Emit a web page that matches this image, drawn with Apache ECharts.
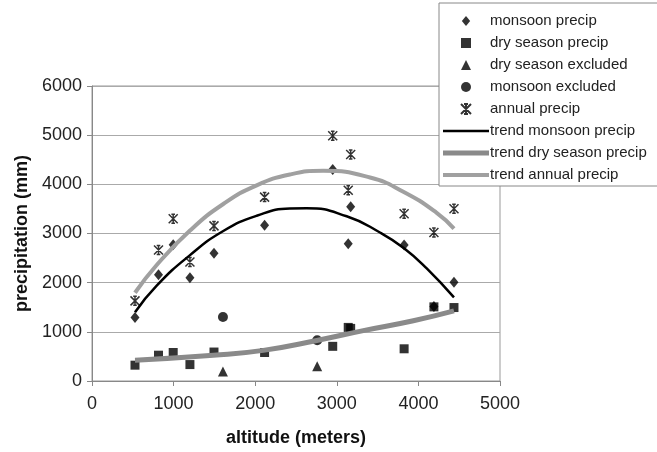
<!DOCTYPE html>
<html>
<head>
<meta charset="utf-8">
<script src="https://cdn.jsdelivr.net/npm/echarts@6/dist/echarts.min.js"></script>
<style>html,body{margin:0;padding:0;background:#fff;}#c{width:657px;height:452px;}</style>
</head>
<body>
<div id="c"></div>
<script>
// ---- data ----
var monsoonAlt    = [527, 815, 995, 1200, 1495, 2115, 2950, 3140, 3170, 3825, 4190, 4436];
var monsoonPrecip = [1290, 2160, 2770, 2100, 2600, 3170, 4300, 2790, 3545, 2765, 1515, 2010];

var dryAlt    = [527, 815, 995, 1200, 1495, 2115, 2950, 3140, 3170, 3825, 4190, 4436];
var dryPrecip = [322, 525, 580, 334, 589, 580, 705, 1090, 1070, 655, 1508, 1494];

var dryExclAlt    = [1605, 2760];
var dryExclPrecip = [195, 300];

var monsoonExclAlt    = [1605, 2760];
var monsoonExclPrecip = [1300, 830];

var annualAlt    = [527, 815, 995, 1200, 1495, 2115, 2950, 3140, 3170, 3825, 4190, 4436];
var annualPrecip = [1630, 2665, 3300, 2420, 3155, 3740, 4990, 3880, 4605, 3400, 3020, 3505];

// trend curves, points
var trendMonsoonAlt = [527, 793, 1201, 1609, 2018, 2426, 2631, 3121, 3529, 3824, 4102, 4436];
var trendMonsoonVal = [1400, 1940, 2560, 3050, 3360, 3510, 3515, 3350, 3020, 2700, 2290, 1700];

var trendDryAlt = [527, 1487, 2099, 2754, 3325, 3938, 4436];
var trendDryVal = [422, 523, 623, 824, 1025, 1226, 1427];

var trendAnnualAlt = [527, 793, 1201, 1609, 2018, 2426, 2835, 3407, 3815, 4224, 4436];
var trendAnnualVal = [1795, 2360, 3060, 3600, 3980, 4200, 4275, 4140, 3850, 3420, 3100];

var xTicks = [0, 1000, 2000, 3000, 4000, 5000];
var yTicks = [0, 1000, 2000, 3000, 4000, 5000, 6000];

function pairs(xs, ys) { return xs.map(function (x, i) { return [x, ys[i]]; }); }

var FONT = '"Liberation Sans", Arial, sans-serif';
var P_DIAMOND = 'path://M5,0L10,6L5,12L0,6Z';
var P_RECT = 'path://M0,0H10V10H0Z';
var P_TRI = 'path://M5,0L10,10L0,10Z';
var P_CIRCLE = 'path://M0,5A5,5 0 1 1 10,5A5,5 0 1 1 0,5Z';
var P_STAR = 'path://M0,0L10,10M10,0L0,10M5,0L5,10M3,0L7,0M3,10L7,10';

var chart = echarts.init(document.getElementById('c'), null, {renderer: 'canvas'});
chart.setOption({
  animation: false,
  backgroundColor: '#fff',
  textStyle: {fontFamily: FONT},
  grid: {left: 92, right: 157, top: 86, bottom: 68, show: true, borderColor: '#999', borderWidth: 1, backgroundColor: 'transparent'},
  legend: {
    left: 439, top: 3, orient: 'vertical',
    itemWidth: 46, itemHeight: 10, itemGap: 6,
    symbolKeepAspect: true,
    padding: [10, 30, 3, 4],
    backgroundColor: '#fff', borderColor: '#888', borderWidth: 1,
    textStyle: {fontSize: 15, color: '#222', fontFamily: FONT, lineHeight: 16, padding: [0, 0, 0, -4]},
    data: [
      {name: 'monsoon precip', icon: P_DIAMOND},
      {name: 'dry season precip', icon: 'path://M0,0H9V9H0Z'},
      {name: 'dry season excluded', icon: P_TRI},
      {name: 'monsoon excluded', icon: P_CIRCLE},
      {name: 'annual precip', icon: P_STAR},
      {name: 'trend monsoon precip', icon: 'path://M0,0H46V2.5H0Z'},
      {name: 'trend dry season precip', icon: 'path://M0,0H46V5H0Z'},
      {name: 'trend annual precip', icon: 'path://M0,0H46V4H0Z'}
    ]
  },
  xAxis: {
    type: 'value', min: xTicks[0], max: xTicks[xTicks.length - 1], interval: 1000,
    name: 'altitude (meters)', nameLocation: 'middle', nameGap: 48,
    nameTextStyle: {fontSize: 18, fontWeight: 'bold', color: '#111', fontFamily: FONT},
    axisLine: {show: true, lineStyle: {color: '#888', width: 1}},
    axisTick: {show: true, inside: false, length: 5, lineStyle: {color: '#888'}},
    axisLabel: {fontSize: 18, color: '#222', margin: 14, fontFamily: FONT, formatter: function (v) { return String(v); }},
    splitLine: {show: false}
  },
  yAxis: {
    type: 'value', min: yTicks[0], max: yTicks[yTicks.length - 1], interval: 1000,
    name: 'precipitation (mm)', nameLocation: 'middle', nameGap: 53, nameRotate: 90,
    nameTextStyle: {fontSize: 18, fontWeight: 'bold', color: '#111', fontFamily: FONT},
    axisLine: {show: true, lineStyle: {color: '#888', width: 1}},
    axisTick: {show: true, inside: false, length: 5, lineStyle: {color: '#888'}},
    axisLabel: {fontSize: 18, color: '#222', margin: 10, fontFamily: FONT, formatter: function (v) { return String(v); }},
    splitLine: {show: true, lineStyle: {color: '#aaa', width: 1}}
  },
  series: [
    {name: 'monsoon precip', type: 'scatter', symbol: P_DIAMOND, symbolSize: [9, 11],
     itemStyle: {color: '#000'}, data: pairs(monsoonAlt, monsoonPrecip)},
    {name: 'dry season precip', type: 'scatter', symbol: P_RECT, symbolSize: 9,
     itemStyle: {color: '#000'}, data: pairs(dryAlt, dryPrecip)},
    {name: 'dry season excluded', type: 'scatter', symbol: P_TRI, symbolSize: [10, 10],
     itemStyle: {color: '#000'}, data: pairs(dryExclAlt, dryExclPrecip)},
    {name: 'monsoon excluded', type: 'scatter', symbol: P_CIRCLE, symbolSize: 10,
     itemStyle: {color: '#000'}, data: pairs(monsoonExclAlt, monsoonExclPrecip)},
    {name: 'annual precip', type: 'scatter', symbol: P_STAR, symbolSize: [9, 9],
     itemStyle: {color: 'rgba(0,0,0,0)', borderColor: '#000', borderWidth: 1.5},
     data: pairs(annualAlt, annualPrecip)},
    {name: 'trend monsoon precip', type: 'line', symbol: 'none', smooth: 0.5,
     lineStyle: {color: '#000', width: 2.5}, itemStyle: {color: '#000', borderWidth: 0},
     data: pairs(trendMonsoonAlt, trendMonsoonVal)},
    {name: 'trend dry season precip', type: 'line', symbol: 'none', smooth: 0.5,
     lineStyle: {color: '#8a8a8a', width: 5}, itemStyle: {color: '#8a8a8a', borderWidth: 0},
     data: pairs(trendDryAlt, trendDryVal)},
    {name: 'trend annual precip', type: 'line', symbol: 'none', smooth: 0.5,
     lineStyle: {color: '#a0a0a0', width: 4}, itemStyle: {color: '#a0a0a0', borderWidth: 0},
     data: pairs(trendAnnualAlt, trendAnnualVal)}
  ]
});
</script>
</body>
</html>
